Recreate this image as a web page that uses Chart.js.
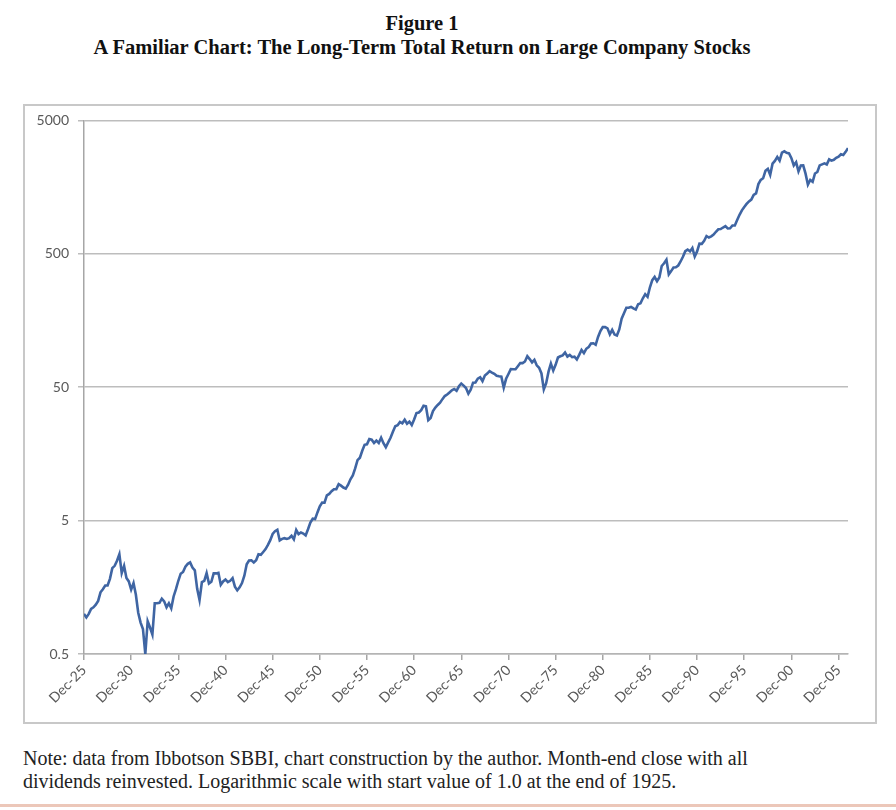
<!DOCTYPE html>
<html>
<head>
<meta charset="utf-8">
<script src="https://cdn.jsdelivr.net/npm/chart.js@4.4.1/dist/chart.umd.min.js"></script>
<style>
  html, body { margin: 0; padding: 0; background: #fff; }
  body { width: 896px; height: 810px; position: relative; overflow: hidden; }
  .title {
    position: absolute; left: 0; top: 11px; width: 844px;
    text-align: center; font: bold 20.5px/24px "Liberation Serif", serif; color: #111;
  }
  .box {
    position: absolute; left: 23px; top: 104px; width: 854px; height: 620px;
    box-sizing: border-box; border: 2px solid #c8c8c8;
  }
  .box canvas { display: block; position: absolute; left: 0; top: -3px; }
  .note {
    position: absolute; left: 23px; top: 747px;
    font: 20px/23px "Liberation Serif", serif; color: #222;
  }
  .edge { position: absolute; left: 0; top: 804px; width: 896px; height: 3px; background: #ecc7b9; }
</style>
</head>
<body>
<div class="title">Figure 1<br>A Familiar Chart: The Long-Term Total Return on Large Company Stocks</div>
<div class="box"><canvas id="chart" width="850" height="616"></canvas></div>
<div class="note">Note: data from Ibbotson SBBI, chart construction by the author. Month-end close with all<br>dividends reinvested. Logarithmic scale with start value of 1.0 at the end of 1925.</div>
<div class="edge"></div>
<script>
  // Index level, Dec 1925 = 1.0, then quarter-ends (Mar, Jun, Sep, Dec).
  const startYear = 1925;
  const startValue = 1.0;

  const q1926to1935 = [
    0.94, 1.00, 1.09, 1.12,   1.17, 1.25, 1.45, 1.53,
    1.63, 1.63, 1.83, 2.20,   2.29, 2.50, 2.80, 2.02,
    2.29, 1.86, 1.75, 1.52,   1.70, 1.39, 1.02, 0.86,
    0.77, 0.50, 0.88, 0.79,   0.70, 1.20, 1.20, 1.21,
    1.30, 1.24, 1.12, 1.20,   1.10, 1.35, 1.53, 1.77,
  ];
  const q1936to1945 = [
    2.00, 2.06, 2.26, 2.37,   2.43, 2.22, 2.12, 1.54,
    1.27, 1.73, 1.77, 2.02,   1.69, 1.74, 2.01, 2.01,
    2.03, 1.65, 1.75, 1.81,   1.73, 1.77, 1.85, 1.60,
    1.50, 1.58, 1.70, 1.93,   2.35, 2.51, 2.52, 2.43,
    2.52, 2.80, 2.77, 2.91,   3.06, 3.29, 3.57, 3.97,
  ];
  const q1946to1955 = [
    4.16, 4.27, 3.55, 3.65,   3.69, 3.64, 3.69, 3.85,
    3.62, 4.25, 3.96, 4.07,   4.00, 3.87, 4.31, 4.84,
    5.16, 5.13, 5.76, 6.39,   6.82, 6.81, 7.73, 7.93,
    8.30, 8.60, 8.61, 9.38,   9.14, 8.85, 8.69, 9.29,
    10.2, 10.9, 12.3, 14.18,  14.8, 16.7, 18.5, 18.66,
  ];
  const q1956to1965 = [
    20.4, 20.2, 19.1, 19.89,  19.1, 20.9, 19.0, 17.74,
    19.3, 20.9, 23.2, 25.44,  25.9, 27.4, 26.8, 28.48,
    26.6, 27.6, 26.0, 28.61,  32.0, 32.3, 33.6, 36.31,
    35.9, 28.3, 29.4, 33.14,  35.2, 36.8, 38.3, 40.69,
    42.9, 44.1, 45.7, 47.40,  48.5, 47.0, 50.8, 53.29,
  ];
  const q1966to1975 = [
    51.4, 49.3, 44.7, 47.93,  54.1, 54.3, 58.0, 59.42,
    55.6, 61.2, 63.2, 65.99,  64.4, 63.0, 60.9, 60.38,
    60.0, 49.6, 57.8, 62.80,  68.3, 68.2, 68.1, 71.79,
    75.8, 75.7, 78.0, 85.41,  81.2, 76.8, 80.3, 72.89,
    70.0, 63.4, 48.2, 53.60,  65.4, 75.1, 66.6, 73.55,
  ];
  const q1976to1985 = [
    83.5, 85.3, 86.6, 91.08,  84.7, 87.3, 83.9, 84.54,
    80.6, 87.3, 95.1, 90.09,  97.0, 99.8, 106.2, 106.73,
    104.0, 119.0, 131.6, 141.33,  141.0, 138.0, 124.5, 134.39,
    124.0, 121.9, 135.4, 163.33,  179.0, 197.0, 197.0, 200.12,
    195.0, 191.0, 209.0, 212.66,  232.0, 249.0, 238.0, 280.39,
  ];
  const q1986to1995 = [
    317, 335, 312, 332.7,   405, 425, 451, 350.3,
    371, 395, 396, 408.4,   438, 475, 523, 537.7,
    521, 553, 477, 521.0,   596, 594, 626, 679.6,
    662, 675, 696, 731.4,   763, 767, 787, 805.3,
    774, 777, 815, 816.0,   895, 980, 1058, 1122.6,
  ];
  const q1996to2006 = [
    1183, 1236, 1274, 1380,   1417, 1665, 1790, 1841,
    2097, 2167, 1951, 2368,   2486, 2661, 2494, 2866,
    2932, 2854, 2826, 2605,   2296, 2430, 2073, 2296,
    2302, 1993, 1649, 1788,   1732, 1999, 2052, 2301,
    2341, 2381, 2337, 2552,   2497, 2531, 2622, 2677,
    2789, 2749, 2905, 3099,
  ];

  const xTickYears = [1925, 1930, 1935, 1940, 1945, 1950, 1955, 1960, 1965,
                      1970, 1975, 1980, 1985, 1990, 1995, 2000, 2005];
  const yTicks = [0.5, 5, 50, 500, 5000];

  const series = [startValue].concat(q1926to1935, q1936to1945, q1946to1955, q1956to1965,
                                     q1966to1975, q1976to1985, q1986to1995, q1996to2006);
  const points = series.map((v, i) => ({ x: startYear + i / 4, y: v }));

  const axisFont = { family: 'Lato, "Open Sans", sans-serif', size: 14 };
  const axisGrey = '#595959';

  new Chart(document.getElementById('chart'), {
    type: 'line',
    data: {
      datasets: [{
        data: points,
        borderColor: '#3f65a3',
        borderWidth: 2.6,
        pointRadius: 0,
        tension: 0,
        fill: false,
      }],
    },
    options: {
      responsive: false,
      animation: false,
      events: [],
      layout: { padding: { left: 0, top: 12, right: 27, bottom: 0 } },
      plugins: { legend: { display: false }, tooltip: { enabled: false } },
      scales: {
        x: {
          type: 'linear',
          min: 1925,
          max: 2006,
          afterBuildTicks: (s) => { s.ticks = xTickYears.map((v) => ({ value: v })); },
          afterFit: (s) => { s.height = 65; },
          ticks: {
            minRotation: 45,
            maxRotation: 45,
            color: axisGrey,
            font: axisFont,
            padding: 2,
            callback: (v) => 'Dec-' + String(v % 100).padStart(2, '0'),
          },
          grid: { drawOnChartArea: false, tickLength: 6, color: '#a6a6a6', lineWidth: 1.5 },
          border: { display: true, color: '#b4b4b4', width: 1.5 },
        },
        y: {
          type: 'logarithmic',
          min: 0.5,
          max: 5000,
          afterBuildTicks: (s) => { s.ticks = yTicks.map((v) => ({ value: v })); },
          afterFit: (s) => { s.width = 59; },
          ticks: {
            color: axisGrey,
            font: axisFont,
            padding: 9,
            callback: (v) => String(v),
          },
          grid: { color: '#bdbdbd', lineWidth: 1.5, tickLength: 6 },
          border: { display: true, color: '#a6a6a6', width: 1.5 },
        },
      },
    },
  });
</script>
</body>
</html>
